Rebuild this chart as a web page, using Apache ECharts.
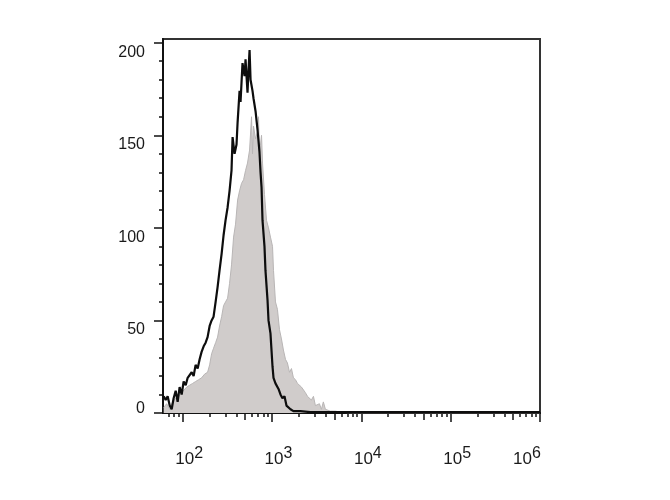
<!DOCTYPE html>
<html>
<head>
<meta charset="utf-8">
<script src="https://cdn.jsdelivr.net/npm/echarts@6/dist/echarts.min.js"></script>
<style>
html,body{margin:0;padding:0;background:#fff;}
#chart{width:670px;height:500px;}
</style>
</head>
<body>
<div id="chart"></div>
<script>
// x values are log10 of fluorescence intensity
const blackX = [1.788,1.810,1.832,1.855,1.877,1.899,1.922,1.944,1.966,1.989,2.011,2.034,2.056,2.078,2.101,2.123,2.145,2.168,2.190,2.212,2.235,2.257,2.279,2.302,2.324,2.346,2.369,2.391,2.413,2.436,2.458,2.480,2.503,2.525,2.547,2.559,2.581,2.603,2.615,2.637,2.648,2.670,2.693,2.704,2.726,2.737,2.749,2.760,2.782,2.793,2.816,2.838,2.860,2.872,2.883,2.894,2.916,2.927,2.950,2.961,2.983,3.006,3.017,3.039,3.073,3.095,3.117,3.140,3.162,3.184,3.207,3.240,3.318,3.430,4.000,5.000,6.000];
const blackY = [9,7,9,4,2,8,12,6,14,10,17,15,19,18,22,20,26,24,29,33,36,38,41,47,50,52,60,68,77,86,96,104,111,120,131,149,140,145,157,174,168,189,182,191,173,185,196,180,174,170,163,153,141,130,122,104,90,77,61,50,43,25,19,16,13,10,8,9,4,3,2,1,1,0.5,0.5,0.5,0.5];

const grayX = [1.788,1.821,1.855,1.888,1.922,1.955,1.989,2.011,2.045,2.078,2.112,2.145,2.179,2.212,2.246,2.279,2.302,2.324,2.346,2.369,2.391,2.413,2.436,2.458,2.480,2.503,2.525,2.547,2.570,2.592,2.615,2.637,2.659,2.682,2.704,2.726,2.749,2.771,2.782,2.793,2.816,2.838,2.849,2.860,2.883,2.894,2.916,2.939,2.961,2.983,3.006,3.017,3.039,3.061,3.084,3.106,3.128,3.151,3.173,3.196,3.218,3.240,3.263,3.285,3.307,3.330,3.352,3.374,3.397,3.419,3.441,3.464,3.486,3.508,3.531,3.553,3.575,3.598,3.620,3.654,3.709,3.765,3.877,6.000];
const grayY = [3,5,2,6,8,9,11,12,14,15,16,17,18,19,21,22,26,32,35,38,41,47,52,58,60,62,70,80,95,102,115,120,124,126,131,135,142,160,140,155,148,152,160,140,150,135,118,104,100,95,90,77,60,56,45,40,34,29,27,22,24,19,18,16,17,14,13,11,9,10,7,9,4,3,5,2,6,2,3,1,1,0.5,0,0];

const xMajorTicks = [2,3,4,5,6];
const xTickLabels = ['2','3','4','5','6'];
const yMajorTicks = [0,50,100,150,200];
const yMinorTicks = [10,20,30,40,60,70,80,90,110,120,130,140,160,170,180,190];

const X_MIN = 1.78, X_MAX = 6, Y_MAX = 202;

// minor log ticks (2..9 x 10^n) and the medium "5" ticks
const xMinorTicks = [], xMidTicks = [];
for (let n = 1; n <= 5; n++) {
  for (let k = 2; k <= 9; k++) {
    const v = Math.log10(k * Math.pow(10, n));
    if (v < X_MIN || v > X_MAX) continue;
    if (k === 5) xMidTicks.push(v); else xMinorTicks.push(v);
  }
}

const pair = (xs, ys) => xs.map((x, i) => [x, ys[i]]);
const FONT = 'Liberation Sans';
const INK = '#1a1a1a';

const baseX = {
  type: 'value', min: X_MIN, max: X_MAX, position: 'bottom', gridIndex: 0,
  splitLine: {show: false}, axisLine: {show: false}, axisLabel: {show: false}
};

const chart = echarts.init(document.getElementById('chart'));
chart.setOption({
  animation: false,
  backgroundColor: '#fff',
  grid: {left: 163, right: 130, top: 39, bottom: 87, show: true, borderColor: '#333', borderWidth: 2, containLabel: false},
  xAxis: [
    Object.assign({}, baseX, {
      axisLine: {show: true, onZero: false, lineStyle: {color: '#111', width: 2}},
      axisTick: {show: true, customValues: xMajorTicks, length: 9, lineStyle: {color: '#111', width: 1.5}},
      axisLabel: {
        show: true, customValues: xMajorTicks, margin: 27,
        formatter: function (v) {
          const i = xMajorTicks.indexOf(Math.round(v));
          const e = xTickLabels[i];
          if (Math.round(v) === 6) return '{b6|10}{s6|' + e + '}';
          return '{b|10}{s|' + e + '}';
        },
        rich: {
          b: {fontFamily: FONT, fontSize: 17, color: INK, lineHeight: 28, verticalAlign: 'bottom', padding: [0, 0, 0, 13]},
          s: {fontFamily: FONT, fontSize: 16, color: INK, verticalAlign: 'top', padding: [6, 0, 0, 0]},
          b6: {fontFamily: FONT, fontSize: 17, color: INK, lineHeight: 28, verticalAlign: 'bottom'},
          s6: {fontFamily: FONT, fontSize: 16, color: INK, verticalAlign: 'top', padding: [6, 26, 0, 0]}
        }
      }
    }),
    Object.assign({}, baseX, {
      axisTick: {show: true, customValues: xMinorTicks, length: 4, lineStyle: {color: '#111', width: 1.5}}
    }),
    Object.assign({}, baseX, {
      axisTick: {show: true, customValues: xMidTicks, length: 7, lineStyle: {color: '#111', width: 1.5}}
    })
  ],
  yAxis: [
    {
      type: 'value', min: 0, max: Y_MAX, position: 'left',
      splitLine: {show: false},
      axisLine: {show: true, onZero: false, lineStyle: {color: '#111', width: 2}},
      axisTick: {show: true, customValues: yMajorTicks, length: 9, lineStyle: {color: '#111', width: 1.5}},
      axisLabel: {
        show: true, customValues: yMajorTicks, margin: 18,
        formatter: function (v) { return v === 0 ? '{z|0}' : '{n|' + v + '}'; },
        rich: {
          n: {fontFamily: FONT, fontSize: 16, color: INK, padding: [19, 0, 0, 0]},
          z: {fontFamily: FONT, fontSize: 16, color: INK, padding: [0, 0, 9, 0]}
        }
      }
    },
    {
      type: 'value', min: 0, max: Y_MAX, position: 'left',
      splitLine: {show: false}, axisLine: {show: false}, axisLabel: {show: false},
      axisTick: {show: true, customValues: yMinorTicks, length: 4, lineStyle: {color: '#111', width: 1.5}}
    }
  ],
  series: [
    {
      type: 'line', xAxisIndex: 0, yAxisIndex: 0, data: pair(grayX, grayY),
      showSymbol: false, symbol: 'none', z: 2,
      lineStyle: {color: '#b8b5b5', width: 1},
      areaStyle: {color: '#d0cccb', opacity: 1}
    },
    {
      type: 'line', xAxisIndex: 0, yAxisIndex: 0, data: pair(blackX, blackY),
      showSymbol: false, symbol: 'none', z: 3,
      lineStyle: {color: '#0d0d0d', width: 2.2}
    }
  ]
});
</script>
</body>
</html>
